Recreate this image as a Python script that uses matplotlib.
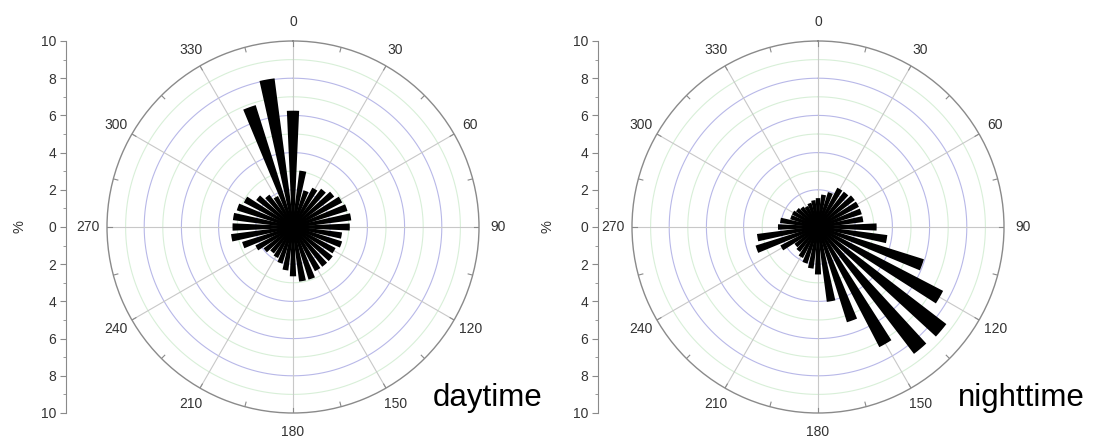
import numpy as np
import matplotlib
matplotlib.use("Agg")
import matplotlib.pyplot as plt

plt.rcParams['font.family'] = ['Liberation Sans', 'DejaVu Sans']

# wind direction bins (deg) and frequency (%)
directions = np.arange(0, 360, 10)
day_pct = [6.2, 3.0, 2.0, 2.3, 2.5, 2.7, 2.9, 3.0, 3.1, 3.0,
           2.6, 2.7, 2.5, 2.6, 2.6, 2.6, 2.9, 2.9, 2.6, 2.3,
           2.0, 1.8, 1.7, 1.9, 2.2, 2.8, 3.3, 3.2, 3.2, 3.1,
           2.9, 2.4, 2.1, 1.8, 6.8, 8.0]
night_pct = [1.5, 1.7, 1.9, 2.3, 2.3, 2.4, 2.4, 2.4, 2.4, 3.1,
             3.7, 5.9, 7.5, 8.6, 8.5, 7.2, 5.3, 4.0, 2.5, 2.2,
             2.0, 1.8, 1.6, 1.5, 2.2, 3.45, 3.25, 2.1, 2.0, 1.5,
             1.5, 1.4, 1.3, 1.2, 1.3, 1.4]
angle_labels = [str(a) for a in range(0, 360, 30)]
side_ticks = [-10, -8, -6, -4, -2, 0, 2, 4, 6, 8, 10]
titles = ["daytime", "nighttime"]

W, H = 1095, 437
fig = plt.figure(figsize=(W / 100, H / 100), dpi=100)
txt = "#333333"

def rose(cx, data, name, axis_x, label_x):
    R = 186
    ax = fig.add_axes([(cx - R) / W, (H - 227 - R) / H, 2 * R / W, 2 * R / H],
                      projection="polar")
    ax.set_theta_zero_location("N")
    ax.set_theta_direction(-1)
    ax.set_ylim(0, 10)
    ax.grid(False)
    ax.set_yticks([])
    ax.set_xticks(np.deg2rad(np.arange(0, 360, 30)))
    ax.set_xticklabels(angle_labels, fontsize=10, color=txt)
    ax.tick_params(axis="x", pad=3)
    ax.spines["polar"].set_color("#8a8a8a")
    ax.spines["polar"].set_linewidth(1.0)
    th = np.linspace(0, 2 * np.pi, 361)
    for r in range(1, 10):
        c = "#b8b8e8" if r % 2 == 0 else "#d8efd8"
        ax.plot(th, np.full_like(th, r), color=c, lw=0.8, zorder=1)
    for a in np.arange(0, 360, 30):
        ax.plot([np.deg2rad(a)] * 2, [0, 10], color="#c8c8c8", lw=0.8, zorder=1)
    for a in np.arange(0, 360, 15):
        ax.plot([np.deg2rad(a)] * 2, [9.75, 10], color="#8a8a8a", lw=0.8, zorder=2)
    ax.bar(np.deg2rad(directions), data, width=np.deg2rad(5.1),
           color="black", edgecolor="black", lw=1.4, zorder=3)

    # side scale
    sa = fig.add_axes([axis_x / W, (H - 413) / H, 0.001, 372 / H])
    sa.set_ylim(-10, 10)
    sa.set_xticks([])
    sa.set_yticks(side_ticks)
    sa.set_yticklabels([str(abs(v)) for v in side_ticks], fontsize=10, color=txt)
    sa.set_yticks(np.arange(-10, 11, 1), minor=True)
    sa.tick_params(axis="y", which="major", length=4, color="#8a8a8a", pad=3)
    sa.tick_params(axis="y", which="minor", length=2, color="#8a8a8a")
    for s in ["top", "right", "bottom"]:
        sa.spines[s].set_visible(False)
    sa.spines["left"].set_color("#8a8a8a")
    sa.patch.set_alpha(0)
    fig.text(label_x / W, 1 - 227 / H, "%", rotation=90, fontsize=10.5,
             color=txt, ha="center", va="center")
    fig.text((cx + 140) / W, 1 - 398 / H, name, fontsize=22.5, color="black",
             ha="left", va="center")

rose(293, day_pct, titles[0], 66, 20)
rose(818, night_pct, titles[1], 598, 548)

fig.savefig("out.png", dpi=100, facecolor="white")
